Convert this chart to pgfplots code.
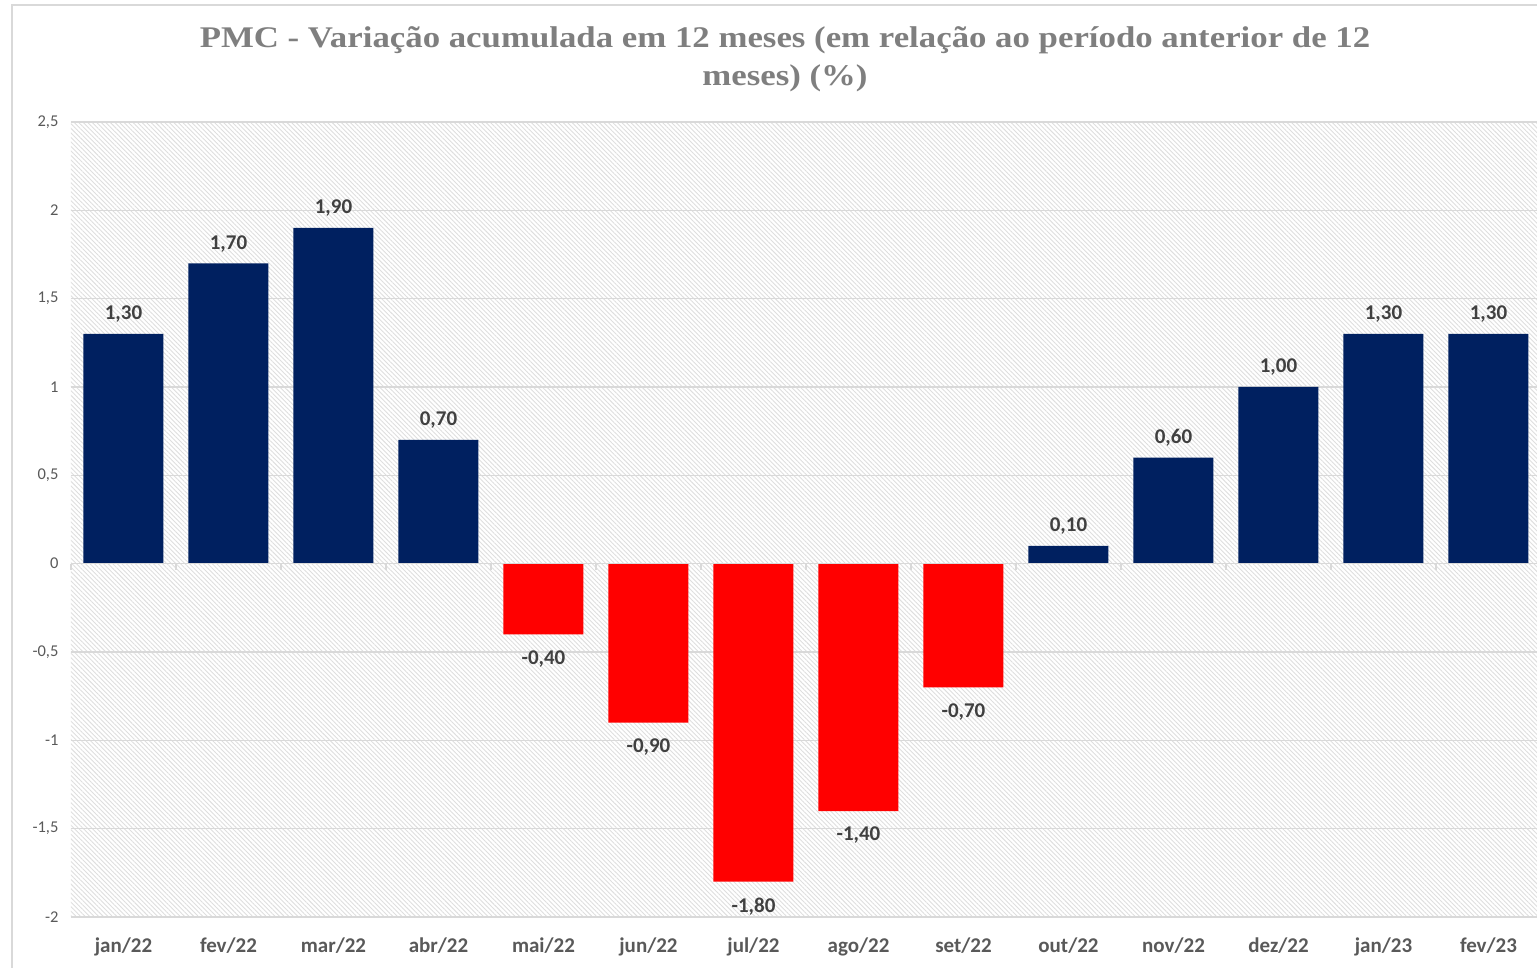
\documentclass[border=0pt]{standalone}
\usepackage{pgfplots}
\pgfplotsset{compat=1.18}
\usepackage{fontspec}
\setmainfont{Carlito}
\newfontfamily\titlefont[FakeStretch=1.16]{Liberation Serif}
\usetikzlibrary{patterns.meta,calc}
\definecolor{navybar}{HTML}{002060}
\definecolor{redbar}{HTML}{FF0000}
\definecolor{gridgray}{HTML}{D9D9D9}
\definecolor{labgray}{HTML}{404040}
\definecolor{tickgray}{HTML}{595959}
\definecolor{titlegray}{HTML}{7F7F7F}
\pgfplotstableread{
x y
0 1.3
1 1.7
2 1.9
3 0.7
9 0.1
10 0.6
11 1.0
12 1.3
13 1.3
}\posdata
\pgfplotstableread{
x y
4 -0.4
5 -0.9
6 -1.8
7 -1.4
8 -0.7
}\negdata
\begin{document}
\begin{tikzpicture}
\begin{axis}[
  scale only axis,
  width=1470pt, height=795pt,
  xmin=-0.5, xmax=13.5, ymin=-2, ymax=2.5,
  axis line style={draw=none},
  axis background/.style={pattern={Lines[angle=-45,distance=3.2pt,line width=0.9pt]}, pattern color=black!13},
  ytick={-2,-1.5,-1,-0.5,0,0.5,1,1.5,2,2.5},
  ymajorgrids, grid style={gridgray, line width=1.5pt},
  major tick length=0pt,
  /pgf/number format/assume math mode=true,
  /pgf/number format/use comma,
  yticklabel style={font=\fontsize{16.5}{19}\selectfont, text=tickgray, xshift=-9pt},
  xtick={0,...,13},
  xticklabels={jan/22,fev/22,mar/22,abr/22,mai/22,jun/22,jul/22,ago/22,set/22,out/22,nov/22,dez/22,jan/23,fev/23},
  xticklabel style={font=\bfseries\fontsize{21}{24}\selectfont, text=tickgray, yshift=-17pt},
  ybar, bar width=80pt, bar shift=0pt,
  nodes near coords,
  nodes near coords style={font=\bfseries\fontsize{21}{24}\selectfont, text=labgray, inner sep=9pt,
    /pgf/number format/fixed, /pgf/number format/fixed zerofill, /pgf/number format/precision=2,
    /pgf/number format/use comma, /pgf/number format/assume math mode=true},
  clip=false,
]
\addplot[fill=navybar, draw=none, nodes near coords style={yshift=2pt}] table[x=x,y=y] {\posdata};
\addplot[fill=redbar, draw=none, nodes near coords style={yshift=-7pt}] table[x=x,y=y] {\negdata};
\draw[gridgray, line width=1.5pt] (axis cs:-0.5,0) -- (axis cs:13.5,0);
\pgfplotsinvokeforeach{0,...,14}{
  \draw[gridgray, line width=1.5pt] (axis cs:#1-0.5,0) -- ([yshift=-6pt]axis cs:#1-0.5,0);
}
\coordinate (O) at (rel axis cs:0,0);
\end{axis}
\pgfresetboundingbox
\path[use as bounding box] ($(O)+(-71pt,-50pt)$) rectangle ($(O)+(1466pt,917pt)$);
\draw[gridgray, line width=2pt] ($(O)+(-59pt,-60pt)$) -- ($(O)+(-59pt,912pt)$) -- ($(O)+(1480pt,912pt)$);
\node[font=\titlefont\bfseries\fontsize{30}{38}\selectfont, text=titlegray, align=center] at ($(O)+(714pt,858pt)$) {PMC - Variação acumulada em 12 meses (em relação ao período anterior de 12\\meses) (\%)};
\end{tikzpicture}
\end{document}
